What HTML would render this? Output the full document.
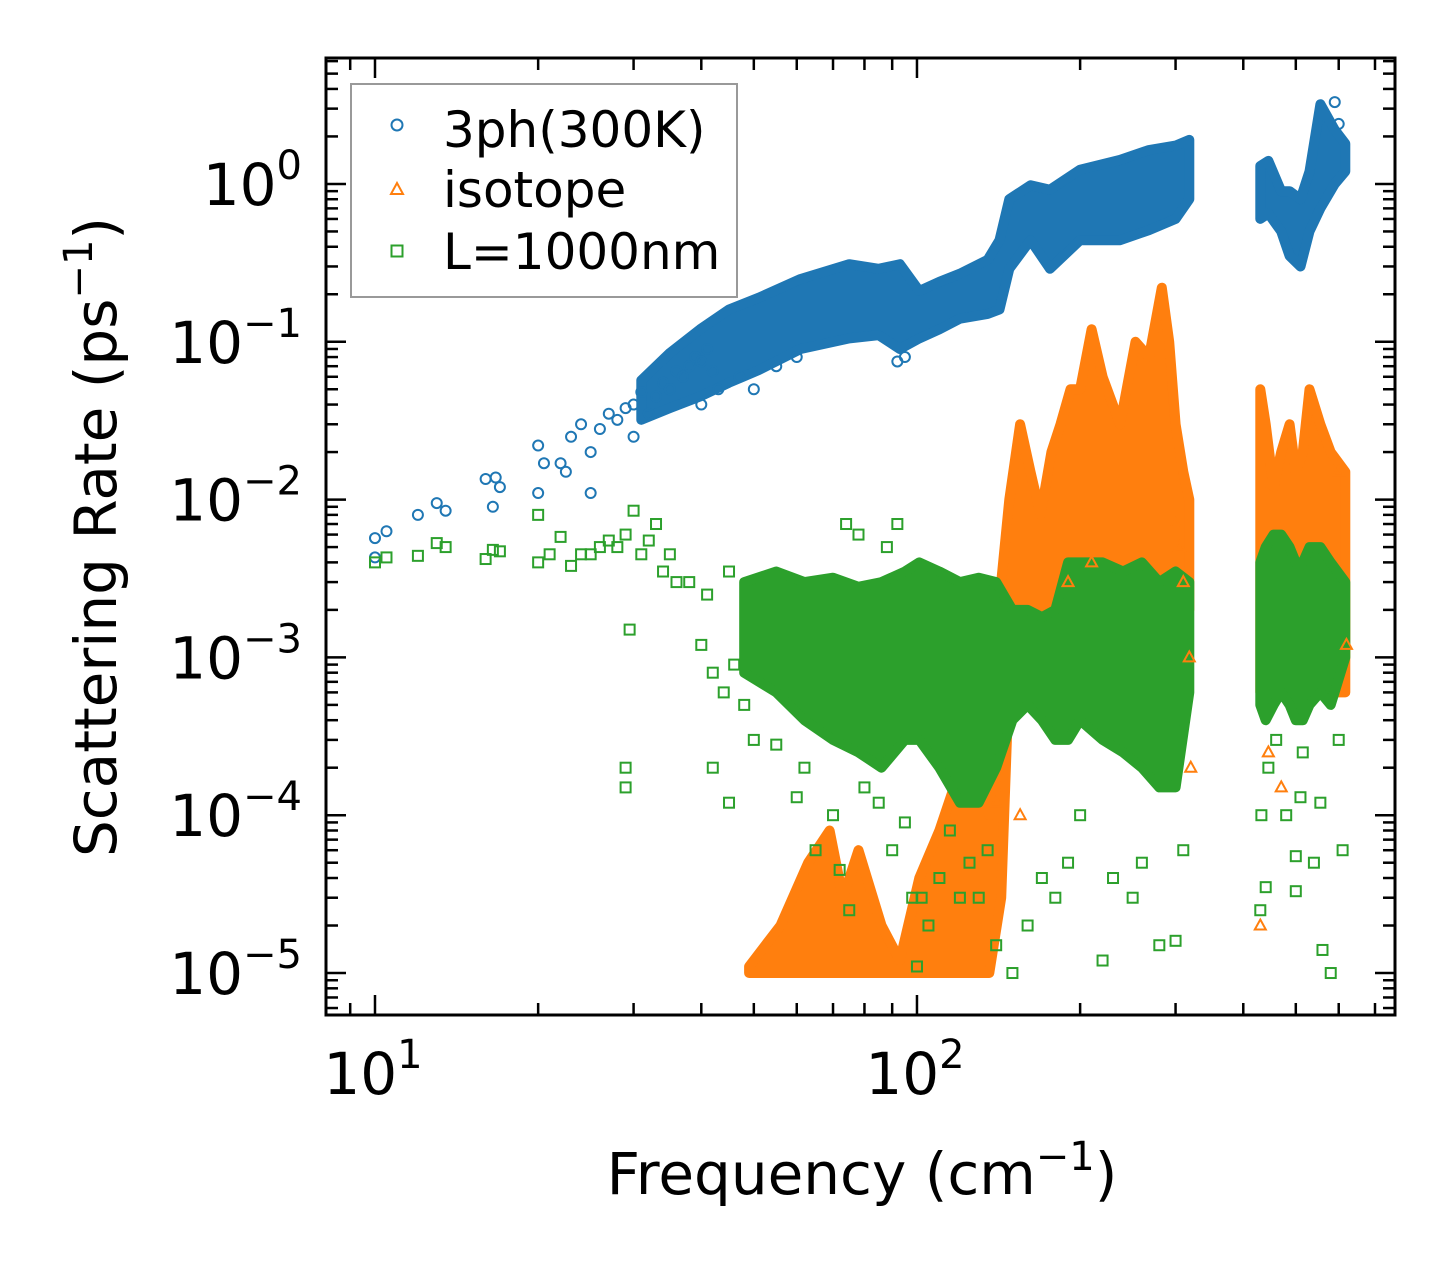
<!DOCTYPE html>
<html><head><meta charset="utf-8">
<style>
html,body{margin:0;padding:0;background:#fff;}
svg{display:block;font-family:"DejaVu Sans","Liberation Sans",sans-serif;}
</style></head>
<body>
<svg id="chart" width="1455" height="1265" viewBox="0 0 1455 1265" xmlns="http://www.w3.org/2000/svg">
<rect width="1455" height="1265" fill="#fff"/>
<g id="bands"></g>
<g id="points"></g>
<g id="axes"></g>
<text transform="translate(116,537) rotate(-90)" text-anchor="middle" font-size="58">Scattering Rate (ps<tspan font-size="40" dy="-24">−1</tspan><tspan dy="24">)</tspan></text>
<text x="862" y="1194" text-anchor="middle" font-size="58">Frequency (cm<tspan font-size="40" dy="-24">−1</tspan><tspan dy="24">)</tspan></text>
<g>
<rect x="351" y="84" width="386" height="213" fill="#fff" stroke="#999" stroke-width="2"/>
<circle cx="397" cy="125" r="5.5" fill="none" stroke="#1f77b4" stroke-width="2"/>
<text x="443" y="147" font-size="50">3ph(300K)</text>
<polygon points="397,183 403,194 391,194" fill="none" stroke="#ff7f0e" stroke-width="2"/>
<text x="443" y="207" font-size="50">isotope</text>
<rect x="391.5" y="245.5" width="11" height="11" fill="none" stroke="#2ca02c" stroke-width="2"/>
<text x="443" y="269" font-size="50">L=1000nm</text>
</g>
</svg>
<script>
// ---- data (frequency cm^-1, rate ps^-1) ----
const blueBandF  = [31,35,39.8,45,51,61,75,85,93,101,110,120,135,142,148,162,176,200,237,268,300,318];
const blueBandHi = [0.057,0.085,0.12,0.16,0.19,0.25,0.31,0.29,0.31,0.21,0.24,0.27,0.33,0.44,0.8,0.98,0.92,1.23,1.42,1.64,1.75,1.9];
const blueBandLo = [0.032,0.038,0.045,0.055,0.066,0.09,0.105,0.11,0.09,0.105,0.12,0.14,0.15,0.16,0.29,0.44,0.29,0.44,0.44,0.51,0.6,0.8];
const blueBand2F  = [430,445,470,487,510,530,555,590,617];
const blueBand2Hi = [1.3,1.4,0.9,0.9,0.8,1.2,3.2,2.2,1.8];
const blueBand2Lo = [0.6,0.65,0.5,0.35,0.3,0.5,0.7,1.0,1.2];
const blueF = [10,10,10.5,12,13,13.5,16,16.5,17,16.7,20,20,20.5,22,22.5,23,24,25,25,26,27,28,29,30,30,31,32,33,34,35,36,37,38,39,40,41,42,40,43,47,50,55,60,92,95,590,600];
const blueV = [0.0057,0.0043,0.0063,0.008,0.0095,0.0085,0.0135,0.009,0.012,0.0138,0.022,0.011,0.017,0.017,0.015,0.025,0.03,0.02,0.011,0.028,0.035,0.032,0.038,0.04,0.025,0.048,0.035,0.045,0.055,0.05,0.065,0.06,0.07,0.08,0.075,0.09,0.065,0.04,0.05,0.06,0.05,0.07,0.08,0.075,0.08,3.3,2.4];

const orangeBandF  = [49,56,63,69,73,78,86,93,101,110,117,120,128,136,143,148,155,162,169,177,184,192,200,210,220,237,253,268,283,292,300,310,318];
const orangeBandHi = [1.1e-5,2e-5,5e-5,8e-5,3e-5,6e-5,2e-5,1.2e-5,4e-5,8e-5,1.5e-4,3e-4,2e-4,1e-4,0.003,0.01,0.03,0.015,0.008,0.02,0.03,0.05,0.05,0.12,0.06,0.03,0.1,0.08,0.22,0.1,0.03,0.015,0.01];
const orangeBandLo = [1e-5,1e-5,1e-5,1e-5,1e-5,1e-5,1e-5,1e-5,1e-5,1e-5,1e-5,1e-5,1e-5,1e-5,3e-5,8e-4,1e-3,6e-4,1e-3,2e-3,2e-3,2e-3,2e-3,2e-3,2e-3,2e-3,2e-3,2e-3,2e-3,2e-3,2e-3,2e-3,2e-3];
const orangeBand2F  = [430,440,455,470,487,500,515,530,555,580,617];
const orangeBand2Hi = [0.05,0.03,0.012,0.02,0.03,0.015,0.02,0.05,0.03,0.02,0.015];
const orangeBand2Lo = [6e-4,6e-4,6e-4,6e-4,6e-4,6e-4,6e-4,6e-4,6e-4,6e-4,6e-4];
const orangeF = [300,305,310,318,320,430,445,470,600,620,190,210,155,140];
const orangeV = [0.007,0.005,0.003,0.001,2e-4,2e-5,2.5e-4,1.5e-4,0.015,0.0012,0.003,0.004,1e-4,1.2e-4];

const greenBandF  = [48,55,62,70,78,86,95,101,110,120,130,140,150,160,170,180,190,200,220,240,260,280,300,318];
const greenBandHi = [0.003,0.0035,0.003,0.0032,0.0028,0.003,0.0035,0.004,0.0035,0.003,0.0032,0.003,0.002,0.002,0.0018,0.002,0.004,0.004,0.004,0.0035,0.004,0.003,0.0035,0.003];
const greenBandLo = [8e-4,6e-4,4e-4,3e-4,2.5e-4,2e-4,3e-4,3e-4,2e-4,1.2e-4,1.2e-4,2e-4,4e-4,5e-4,4e-4,3e-4,3e-4,4e-4,3e-4,2.5e-4,2e-4,1.5e-4,1.5e-4,6e-4];
const greenBand2F  = [430,440,455,470,487,500,515,530,555,580,617];
const greenBand2Hi = [0.004,0.005,0.006,0.006,0.005,0.004,0.004,0.005,0.005,0.004,0.003];
const greenBand2Lo = [5e-4,4e-4,5e-4,6e-4,5e-4,4e-4,4e-4,5e-4,6e-4,5e-4,1e-3];
const greenF = [10,10.5,12,13,13.5,16,16.5,17,20,20,21,22,23,24,25,26,27,28,29,29.5,30,31,32,33,34,35,36,38,40,41,42,44,45,46,48,29,29,42,45,50,55,60,65,70,72,75,80,85,90,95,98,100,102,105,110,115,120,125,130,135,140,150,160,170,180,190,200,220,230,250,260,280,300,310,430,432,440,445,460,480,500,500,510,515,540,555,560,580,600,610,62,74,78,88,92];
const greenV = [0.004,0.0043,0.0044,0.0053,0.005,0.0042,0.0048,0.0047,0.004,0.008,0.0045,0.0058,0.0038,0.0045,0.0045,0.005,0.0055,0.005,0.006,0.0015,0.0085,0.0045,0.0055,0.007,0.0035,0.0045,0.003,0.003,0.0012,0.0025,0.0008,0.0006,0.0035,0.0009,0.0005,0.0002,0.00015,0.0002,0.00012,0.0003,0.00028,0.00013,6e-5,1e-4,4.5e-5,2.5e-5,1.5e-4,1.2e-4,6e-5,9e-5,3e-5,1.1e-5,3e-5,2e-5,4e-5,8e-5,3e-5,5e-5,3e-5,6e-5,1.5e-5,1e-5,2e-5,4e-5,3e-5,5e-5,1e-4,1.2e-5,4e-5,3e-5,5e-5,1.5e-5,1.6e-5,6e-5,2.5e-5,1e-4,3.5e-5,2e-4,3e-4,1e-4,5.5e-5,3.3e-5,1.3e-4,2.5e-4,5e-5,1.2e-4,1.4e-5,1e-5,3e-4,6e-5,2e-4,0.007,0.006,0.005,0.007,0.005];

// ---- axes ----
const xMinLog = 0.9096, xMaxLog = 2.882, yMinLog = -5.266, yMaxLog = 0.798;
const L = 326, R = 1395, T = 58, B = 1015;
function X(f){ return L + (Math.log10(f) - xMinLog) / (xMaxLog - xMinLog) * (R - L); }
function Y(v){ return B - (Math.log10(v) - yMinLog) / (yMaxLog - yMinLog) * (B - T); }
const NS = "http://www.w3.org/2000/svg";
function mk(tag, attrs, parent){ const e = document.createElementNS(NS, tag); for (const k in attrs) e.setAttribute(k, attrs[k]); parent.appendChild(e); return e; }

const bands = document.getElementById('bands');
const pts = document.getElementById('points');
const axes = document.getElementById('axes');

function drawBand(F, hi, lo, color, name){
  let d = '';
  for (let i = 0; i < F.length; i++) d += (i ? 'L' : 'M') + X(F[i]).toFixed(1) + ',' + Y(hi[i]).toFixed(1);
  for (let i = F.length - 1; i >= 0; i--) d += 'L' + X(F[i]).toFixed(1) + ',' + Y(lo[i]).toFixed(1);
  d += 'Z';
  const p = mk('path', {d: d, fill: color, stroke: color, 'stroke-width': 10, 'stroke-linejoin': 'round'}, bands);
  
  
}
function marker(kind, f, v, color, parent){
  const x = X(f), y = Y(v);
  let e;
  if (kind === 'circle') e = mk('circle', {cx: x, cy: y, r: 5, fill: 'none', stroke: color, 'stroke-width': 2}, parent);
  else if (kind === 'tri') e = mk('polygon', {points: `${x},${y-6} ${x+5.5},${y+4} ${x-5.5},${y+4}`, fill: 'none', stroke: color, 'stroke-width': 2}, parent);
  else e = mk('rect', {x: x-5, y: y-5, width: 10, height: 10, fill: 'none', stroke: color, 'stroke-width': 2}, parent);
  return e;
}
function drawSeries(kind, F, V, color, name){
  const g = mk('g', {}, pts);
  
  
  for (let i = 0; i < F.length; i++){
    const m = marker(kind, F[i], V[i], color, g);
    
    
  }
}

drawBand(blueBandF, blueBandHi, blueBandLo, '#1f77b4', 'band-3ph');
drawBand(blueBand2F, blueBand2Hi, blueBand2Lo, '#1f77b4', 'band-3ph-high');
drawSeries('circle', blueF, blueV, '#1f77b4', 'series-3ph');
drawBand(orangeBandF, orangeBandHi, orangeBandLo, '#ff7f0e', 'band-isotope');
drawBand(orangeBand2F, orangeBand2Hi, orangeBand2Lo, '#ff7f0e', 'band-isotope-high');
drawSeries('tri', orangeF, orangeV, '#ff7f0e', 'series-isotope');
drawBand(greenBandF, greenBandHi, greenBandLo, '#2ca02c', 'band-boundary');
drawBand(greenBand2F, greenBand2Hi, greenBand2Lo, '#2ca02c', 'band-boundary-high');
drawSeries('square', greenF, greenV, '#2ca02c', 'series-boundary');

const fr = mk('rect', {x: L, y: T, width: R-L, height: B-T, fill: 'none', stroke: '#000', 'stroke-width': 3}, axes);



const xMajor = [10, 100];
const xMajorLabels = ['1', '2'];
const yMajor = [1e-5, 1e-4, 1e-3, 1e-2, 1e-1, 1];
const yMajorLabels = ['−5', '−4', '−3', '−2', '−1', '0'];

function tick(x1, y1, x2, y2, name){
  const t = mk('line', {x1: x1, y1: y1, x2: x2, y2: y2, stroke: '#000', 'stroke-width': 2.5}, axes);
  
  
}
for (let d = 0; d <= 2; d++){
  for (let m = 1; m <= 9; m++){
    const f = m * Math.pow(10, d);
    const lg = Math.log10(f);
    if (lg < xMinLog || lg > xMaxLog) continue;
    const x = X(f), len = m === 1 ? 20 : 12;
    tick(x, B, x, B - len, 'x-tick');
    tick(x, T, x, T + len, 'x-tick-top');
  }
}
for (let d = -6; d <= 0; d++){
  for (let m = 1; m <= 9; m++){
    const v = m * Math.pow(10, d);
    const lg = Math.log10(v);
    if (lg < yMinLog || lg > yMaxLog) continue;
    const y = Y(v), len = m === 1 ? 20 : 12;
    tick(L, y, L + len, y, 'y-tick');
    tick(R, y, R - len, y, 'y-tick-right');
  }
}
xMajor.forEach((f, i) => {
  const t = mk('text', {x: X(f) - 2, y: 1094, 'text-anchor': 'middle', 'font-size': 58}, axes);
  
  
  t.textContent = '10';
  const s = mk('tspan', {'font-size': 40, dy: -26}, t);
  s.textContent = xMajorLabels[i];
});
yMajor.forEach((v, i) => {
  const t = mk('text', {x: 302, y: Y(v) + 21, 'text-anchor': 'end', 'font-size': 58}, axes);
  
  
  t.textContent = '10';
  const s = mk('tspan', {'font-size': 40, dy: -26}, t);
  s.textContent = yMajorLabels[i];
});
</script>
</body></html>
